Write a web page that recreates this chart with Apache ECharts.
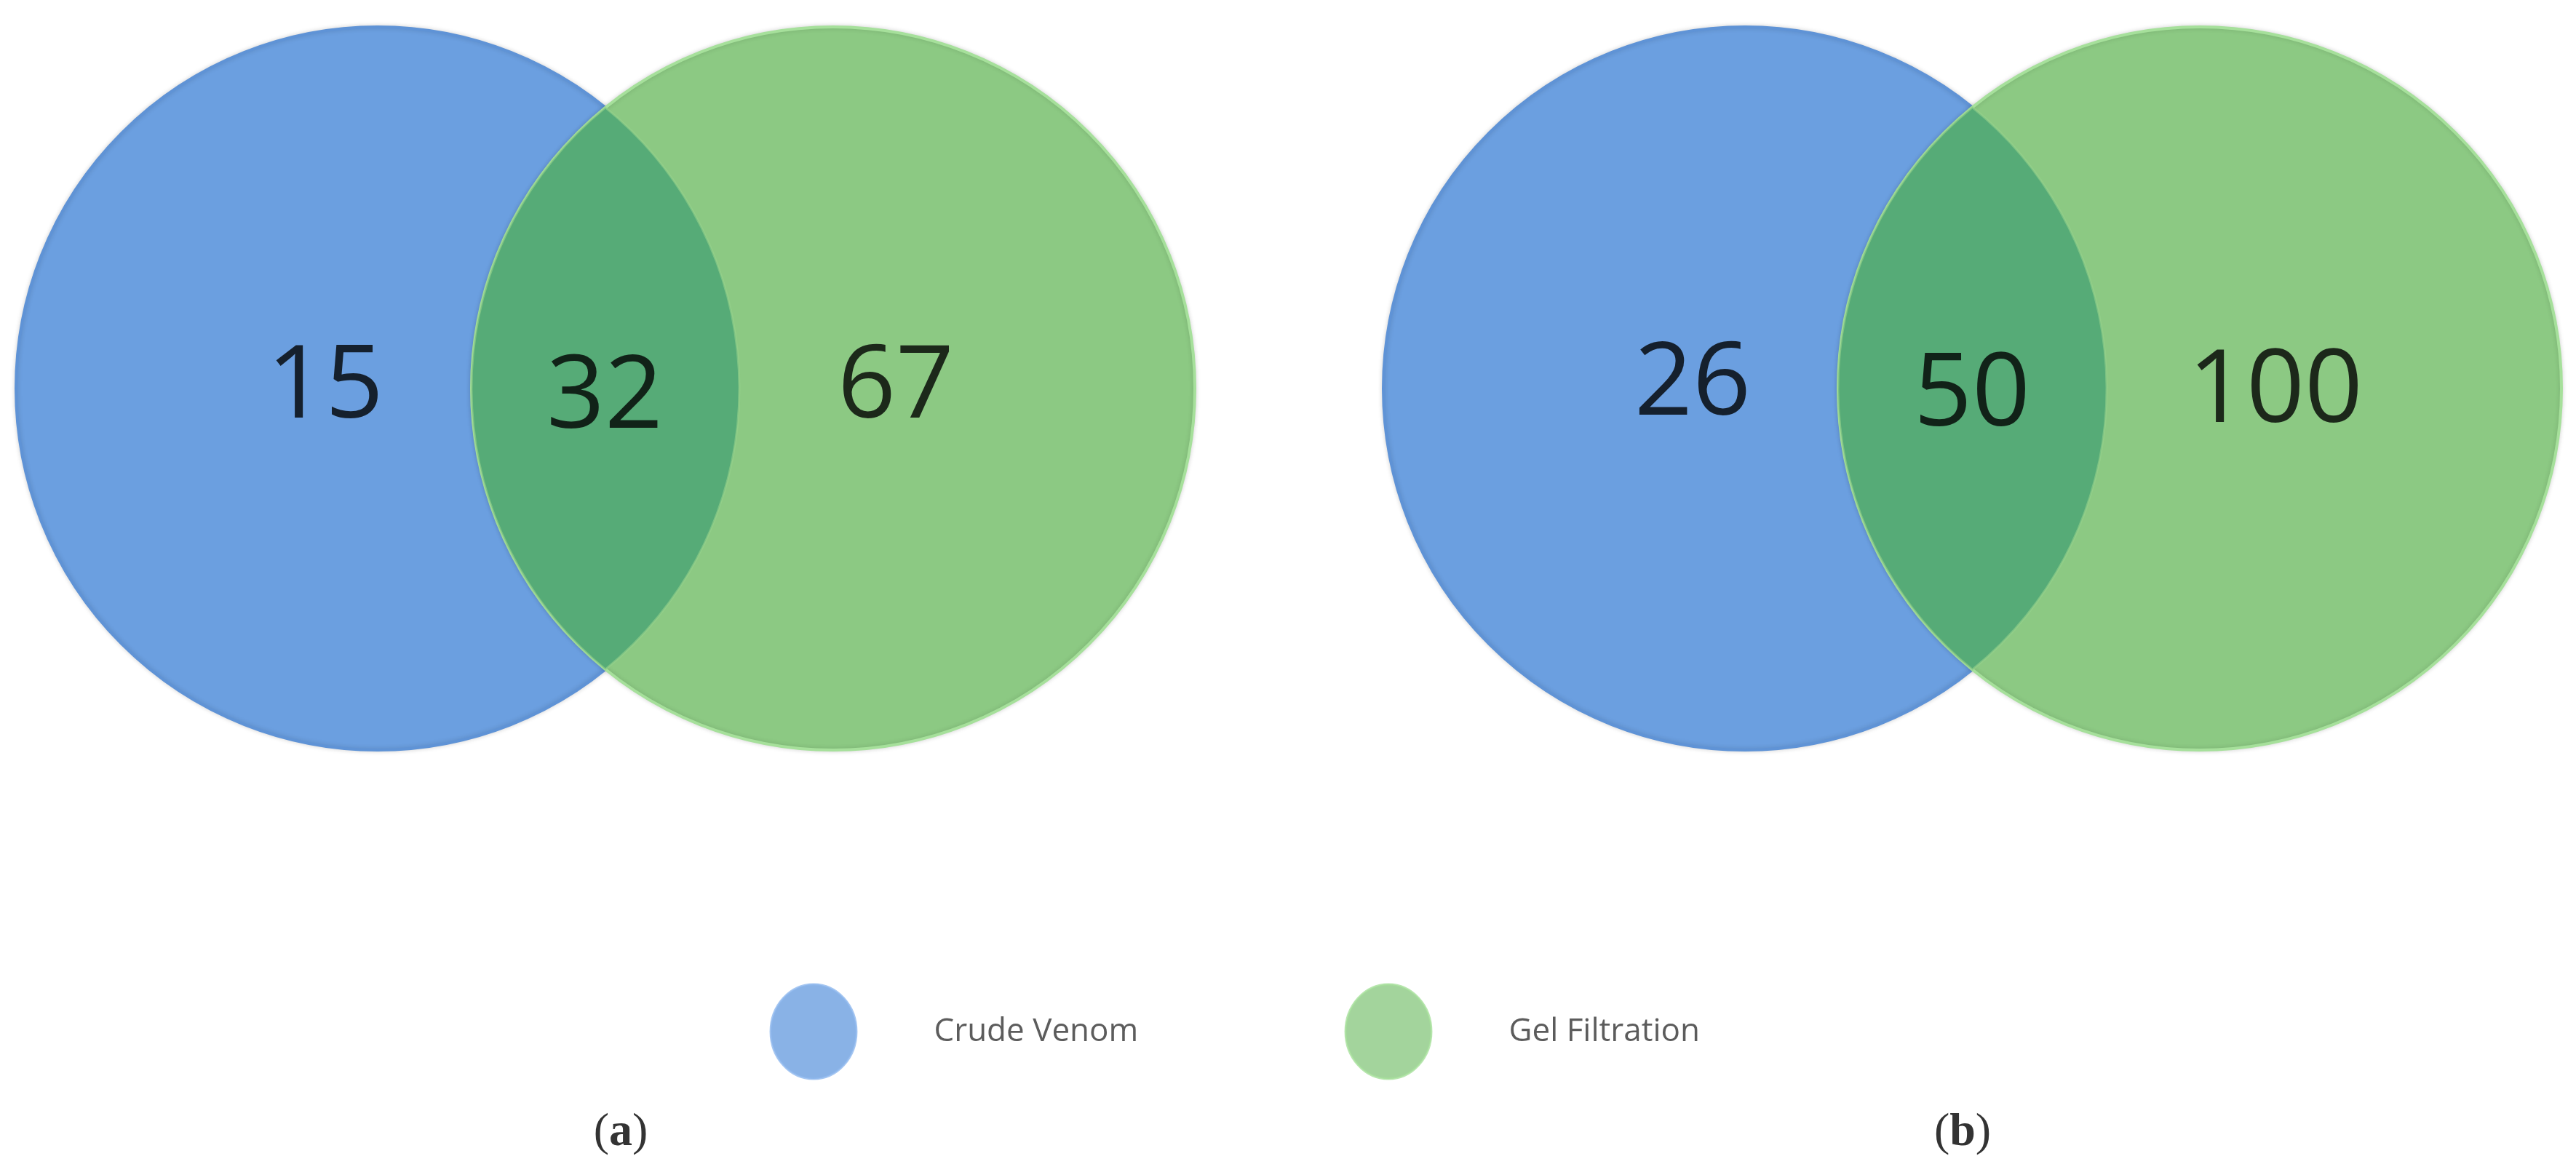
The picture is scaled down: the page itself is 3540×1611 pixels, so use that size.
<!DOCTYPE html>
<html>
<head>
<meta charset="utf-8">
<script src="https://cdn.jsdelivr.net/npm/echarts@6/dist/echarts.min.js"></script>
<style>
    html, body { margin: 0; padding: 0; background: #fff; }
    #chart { width: 3540px; height: 1611px; }
</style>
</head>
<body>
<div id="chart"></div>
<script>
    // counts: [only crude, shared, only gel]
    const panelLabels = ["a", "b"];
    const countsA = [15, 32, 67];
    const countsB = [26, 50, 100];
    const setNames = ["Crude Venom", "Gel Filtration"];

    // layout (pixel space of the 3540x1611 canvas)
    const radius = 497;
    const panelCenters = [
        { blue: [519, 534], green: [1145, 534], labels: [[447, 534], [831, 548], [1231, 534]], tag: [853, 1557] },
        { blue: [2398, 534], green: [3023, 534], labels: [[2326, 530], [2710, 545], [3127, 540]], tag: [2697, 1557] }
    ];
    const legendPos = [[1118, 1418], [1908, 1418]];

    const blue = "#6b9fe0";
    const green = "#8cc983";
    const overlap = "#56ab77";

    const circleData = [];
    const lensData = [];
    const numberData = [];
    [countsA, countsB].forEach((counts, i) => {
        const p = panelCenters[i];
        circleData.push({ value: p.blue, itemStyle: { color: blue, borderColor: "#5f93d6" } });
        circleData.push({ value: p.green, itemStyle: { color: green, borderColor: "#a6e09b" } });
        lensData.push([p.blue[0], p.blue[1], p.green[0], p.green[1]]);
        counts.forEach((c, k) => numberData.push({ value: [p.labels[k][0], p.labels[k][1], c] }));
    });

    const chart = echarts.init(document.getElementById("chart"), null, { renderer: "canvas" });

    chart.setOption({
        backgroundColor: "#fff",
        animation: false,
        grid: { left: 0, right: 0, top: 0, bottom: 0 },
        xAxis: { type: "value", min: 0, max: 3540, show: false },
        yAxis: { type: "value", min: 0, max: 1611, inverse: true, show: false },
        series: [
            {
                type: "scatter",
                symbol: "circle",
                symbolSize: radius * 2,
                data: circleData,
                itemStyle: { borderWidth: 4, opacity: 1, shadowBlur: 6, shadowColor: "rgba(0,0,0,0.15)" },
                z: 1
            },
            {
                type: "custom",
                data: lensData,
                z: 2,
                renderItem: (params, api) => {
                    const a = api.coord([api.value(0), api.value(1)]);
                    const b = api.coord([api.value(2), api.value(3)]);
                    const r = api.size([radius, 0])[0];
                    const d = b[0] - a[0];
                    const mx = (a[0] + b[0]) / 2;
                    const h = Math.sqrt(r * r - (d / 2) * (d / 2));
                    const top = [mx, a[1] - h];
                    const bot = [mx, a[1] + h];
                    return {
                        type: "path",
                        shape: {
                            pathData: `M ${top[0]} ${top[1]} A ${r} ${r} 0 0 1 ${bot[0]} ${bot[1]} A ${r} ${r} 0 0 1 ${top[0]} ${top[1]} Z`
                        },
                        style: { fill: overlap, stroke: "rgba(150,210,140,0.6)", lineWidth: 3 }
                    };
                }
            },
            {
                type: "scatter",
                symbolSize: 0,
                data: numberData,
                z: 3,
                label: {
                    show: true,
                    position: "inside",
                    formatter: ({ value }) => String(value[2]),
                    fontFamily: "Open Sans",
                    fontSize: 140,
                    color: "#000"
                }
            },
            {
                type: "scatter",
                symbol: "circle",
                symbolSize: [118, 130],
                data: legendPos.map((v, i) => ({
                    value: [v[0], v[1], setNames[i]],
                    itemStyle: { color: i ? green : blue, borderColor: i ? "#a6e09b" : "#8fb8ee", borderWidth: 3 }
                })),
                z: 3,
                label: {
                    show: true,
                    position: "right",
                    distance: 105,
                    formatter: ({ value }) => value[2],
                    fontFamily: "Open Sans",
                    fontSize: 44,
                    color: "#333"
                }
            },
            {
                type: "scatter",
                symbolSize: 0,
                data: panelLabels.map((t, i) => ({ value: [panelCenters[i].tag[0], panelCenters[i].tag[1], t] })),
                z: 3,
                label: {
                    show: true,
                    position: "inside",
                    formatter: ({ value }) => `(${"{b|" + value[2] + "}"})`,
                    fontFamily: "Liberation Serif",
                    fontSize: 64,
                    color: "#000",
                    rich: { b: { fontFamily: "Liberation Serif", fontSize: 64, fontWeight: "bold", color: "#000" } }
                }
            }
        ]
    });
</script>
</body>
</html>
